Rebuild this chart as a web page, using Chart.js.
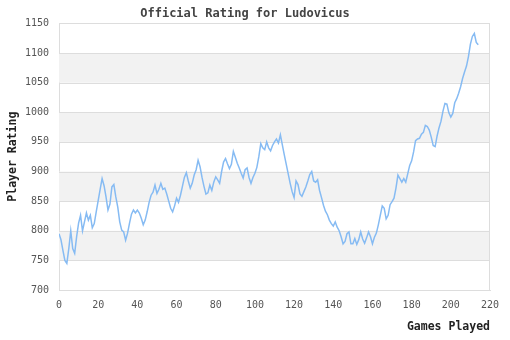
<!DOCTYPE html>
<html>
<head>
<meta charset="utf-8">
<script src="https://cdn.jsdelivr.net/npm/chart.js@4"></script>
<style>
  html, body { margin: 0; padding: 0; background: #fff; }
  #wrap { width: 510px; height: 340px; }
</style>
</head>
<body>
<div id="wrap"><canvas id="graficoRating"></canvas></div>
<script>
// rating after each game (game 0 .. 214)
const ratings = [
  795, 785, 767, 750, 745, 770, 800, 770, 762, 790,
  813, 826, 800, 815, 830, 818, 826, 805, 812, 832,
  851, 870, 888, 876, 857, 835, 845, 874, 878, 857,
  840, 815, 801, 798, 784, 796, 813, 828, 835, 830,
  835, 830, 821, 810, 818, 832, 848, 860, 865, 877,
  863, 870, 880, 870, 872, 862, 850, 838, 832, 842,
  855, 848, 860, 875, 890, 898, 884, 872, 880, 894,
  903, 919, 908, 890, 875, 862, 864, 877, 868, 882,
  891, 886, 880, 900, 916, 922, 913, 905, 912, 934,
  924, 914, 906, 897, 889, 903, 906, 890, 880, 890,
  897, 907, 925, 947, 940, 937, 950, 940, 935, 944,
  950, 955, 948, 962, 945, 928, 912, 896, 880, 866,
  856, 884, 878, 862, 858, 866, 874, 884, 895, 900,
  884, 882, 886, 868, 856, 843, 833, 827, 818, 812,
  808, 815, 806, 800, 790, 778, 782, 795, 798, 778,
  778, 787, 777, 785, 798, 786, 779, 788, 798, 790,
  778, 789, 796, 810, 826, 842, 838, 820, 826, 844,
  849, 855, 872, 894, 888, 882, 888, 882, 896, 910,
  918, 933, 952, 955, 956, 963, 966, 978, 976, 970,
  958, 944, 942, 960, 974, 985, 1002, 1015, 1014, 999,
  992, 998, 1016, 1023, 1032, 1043, 1057, 1068, 1078, 1094,
  1115, 1128, 1133, 1118, 1114
];

const xTicks = [0, 20, 40, 60, 80, 100, 120, 140, 160, 180, 200, 220];
const yTicks = [700, 750, 800, 850, 900, 950, 1000, 1050, 1100, 1150];

const fonte = "'DejaVu Sans Mono', monospace";
const cinza = "#dddddd";

// faixas cinza alternadas + moldura do gráfico
const faixas = {
  id: "faixas",
  beforeDatasetsDraw(chart) {
    const { ctx, chartArea, scales } = chart;
    ctx.save();
    ctx.fillStyle = "#f2f2f2";
    for (let i = 0; i < yTicks.length - 1; i++) {
      if (i % 2 === 0) continue;
      const y1 = scales.y.getPixelForValue(yTicks[i + 1]);
      const y2 = scales.y.getPixelForValue(yTicks[i]);
      ctx.fillRect(chartArea.left, y1, chartArea.right - chartArea.left, y2 - y1);
    }
    ctx.strokeStyle = cinza;
    ctx.lineWidth = 1;
    for (let i = 0; i < yTicks.length; i++) {
      const y = Math.round(scales.y.getPixelForValue(yTicks[i])) + 0.5;
      ctx.beginPath();
      ctx.moveTo(chartArea.left, y);
      ctx.lineTo(chartArea.right, y);
      ctx.stroke();
    }
    ctx.beginPath();
    ctx.moveTo(Math.round(chartArea.right) - 0.5, chartArea.top);
    ctx.lineTo(Math.round(chartArea.right) - 0.5, chartArea.bottom);
    ctx.stroke();
    ctx.restore();
  }
};

const ctx = document.getElementById("graficoRating");

new Chart(ctx, {
  type: "line",
  data: {
    datasets: [
      {
        label: "Rating",
        data: ratings.map((r, jogo) => ({ x: jogo, y: r })),
        borderColor: "#86bbf3",
        borderWidth: 1.5,
        pointRadius: 0,
        tension: 0,
        fill: false,
      },
    ],
  },
  options: {
    responsive: true,
    maintainAspectRatio: false,
    animation: false,
    layout: { padding: { left: 0, right: 20, top: 0, bottom: 0 } },
    plugins: {
      legend: { display: false },
      tooltip: { enabled: false },
      title: {
        display: true,
        text: "Official Rating for Ludovicus",
        color: "#444",
        font: { family: fonte, size: 12, weight: "bold" },
        padding: { top: 7, bottom: 2 },
      },
    },
    scales: {
      x: {
        type: "linear",
        min: 0,
        max: 220,
        afterBuildTicks: (s) => { s.ticks = xTicks.map((v) => ({ value: v })); },
        afterFit: (s) => { s.height = 50; },
        grid: { display: false, drawTicks: false },
        border: { display: true, color: cinza },
        ticks: {
          padding: 9,
          color: "#555",
          font: { family: fonte, size: 10 },
          maxRotation: 0,
          callback: (v) => String(v),
        },
        title: {
          display: true,
          text: "Games Played",
          align: "end",
          color: "#222",
          font: { family: fonte, size: 11.5, weight: "bold" },
          padding: { top: 4, bottom: 6 },
        },
      },
      y: {
        min: 700,
        max: 1150,
        afterBuildTicks: (s) => { s.ticks = yTicks.map((v) => ({ value: v })); },
        afterFit: (s) => { s.width = 59; },
        grid: { display: false, drawTicks: false },
        border: { display: true, color: cinza },
        ticks: {
          padding: 10,
          color: "#555",
          font: { family: fonte, size: 10 },
          callback: (v) => String(v),
        },
        title: {
          display: true,
          text: "Player Rating",
          color: "#222",
          font: { family: fonte, size: 11.5, weight: "bold" },
          padding: { top: 6, bottom: 4 },
        },
      },
    },
  },
  plugins: [faixas],
});
</script>
</body>
</html>
